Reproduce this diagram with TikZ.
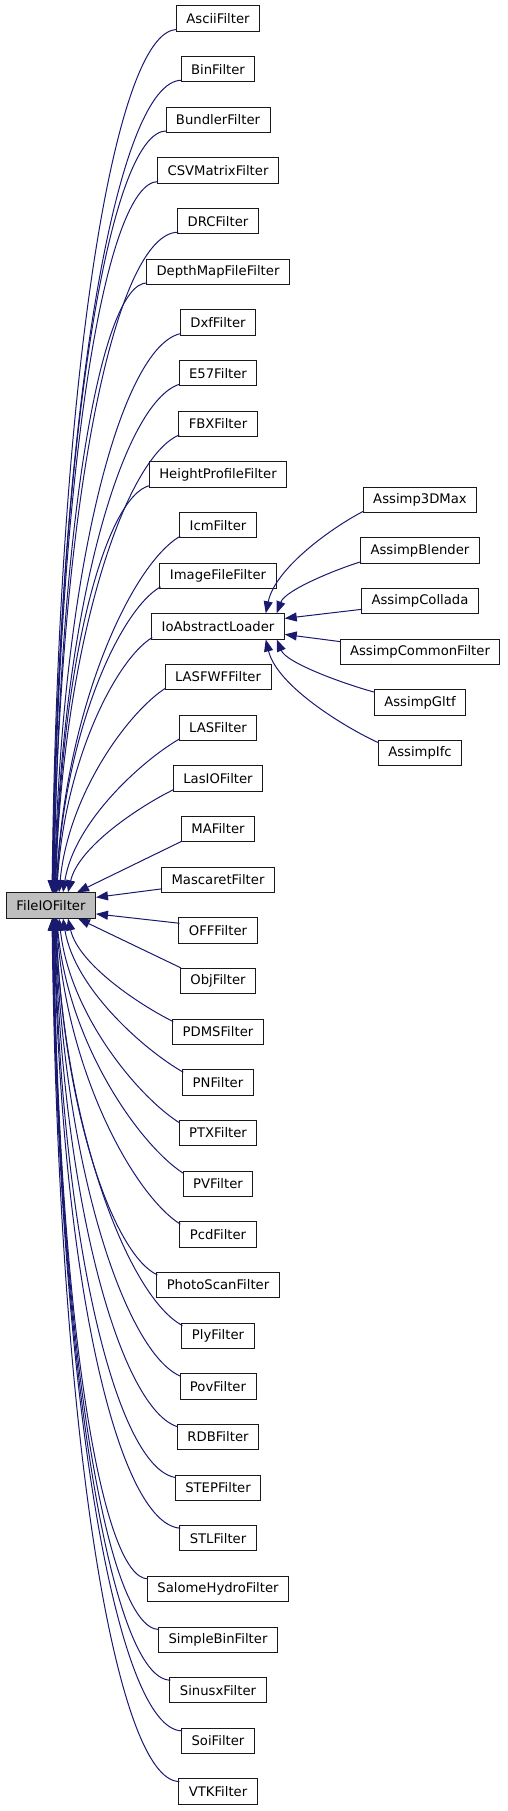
\documentclass[tikz,border=0pt]{standalone}
\usepackage{fontspec}
\setmainfont{DejaVu Sans}
\usetikzlibrary{arrows.meta,calc}
\definecolor{edgeblue}{RGB}{25,25,112}
\newcommand\upedge[2]{%
  \draw[edge] let \p1=($(#1.south west)+(1,2)$), \p2=#2,
    \n1={\x1-\x2}, \n2={\y1-\y2}, \n3={min(1,max(0,(\n2/\n1-1)/4))} in
    (\p1) .. controls ($(\p1)+({-(0.3+0.2*\n3)*\n1},{-0.15*(1-\n3)*\n2})$)
      and ($(\p2)+({(0.1-0.05*\n3)*\n1},{(0.45+0.15*\n3)*\n2})$) .. (\p2);}
\newcommand\downedge[2]{%
  \draw[edge] let \p1=($(#1.north west)+(1,-3)$), \p2=#2,
    \n1={\x1-\x2}, \n2={\y2-\y1}, \n3={min(1,max(0,(\n2/\n1-1)/4))} in
    (\p1) .. controls ($(\p1)+({-(0.3+0.2*\n3)*\n1},{0.15*(1-\n3)*\n2})$)
      and ($(\p2)+({(0.1-0.05*\n3)*\n1},{-(0.45+0.15*\n3)*\n2})$) .. (\p2);}
\begin{document}
\begin{tikzpicture}[x=1pt,y=1pt,
  box/.style={draw=black!90, line width=0.9pt, fill=white, text=black,
    font=\fontsize{13.2}{15}\selectfont, inner xsep=10pt, inner ysep=0pt,
    minimum height=25.3pt},
  rootbox/.style={box, fill=black!25},
  edge/.style={draw=edgeblue, line width=1pt, -{Triangle[length=12pt,width=9pt]}}]
\useasboundingbox (0,0) rectangle (507,1811);
\node[rootbox] (F) at (51,905.6) {FileIOFilter};
\foreach \r/\t in {1/AsciiFilter, 2/BinFilter, 3/BundlerFilter, 4/CSVMatrixFilter,
  5/DRCFilter, 6/DepthMapFileFilter, 7/DxfFilter, 8/E57Filter, 9/FBXFilter,
  10/HeightProfileFilter, 11/IcmFilter, 12/ImageFileFilter, 13/IoAbstractLoader,
  14/LASFWFFilter, 15/LASFilter, 16/LasIOFilter, 17/MAFilter, 18/MascaretFilter,
  19/OFFFilter, 20/ObjFilter, 21/PDMSFilter, 22/PNFilter, 23/PTXFilter,
  24/PVFilter, 25/PcdFilter, 26/PhotoScanFilter, 27/PlyFilter, 28/PovFilter,
  29/RDBFilter, 30/STEPFilter, 31/STLFilter, 32/SalomeHydroFilter,
  33/SimpleBinFilter, 34/SinusxFilter, 35/SoiFilter, 36/VTKFilter}
  \node[box] (c\r) at (218,{1792.5-(\r-1)*50.66}) {\t};
\foreach \r/\t in {1/Assimp3DMax, 2/AssimpBlender, 3/AssimpCollada,
  4/AssimpCommonFilter, 5/AssimpGltf, 6/AssimpIfc}
  \node[box] (r\r) at (420,{1311-(\r-1)*50.6}) {\t};
% edges to FileIOFilter from above
\foreach \r in {1,...,13}{
  \pgfmathsetmacro\tx{46+0.4*(\r-1)}
  \upedge{c\r}{($(F.north west)+(\tx,0)$)}
}
\upedge{c14}{($(F.north west)+(53,0)$)}
\upedge{c15}{($(F.north west)+(57,0)$)}
\upedge{c16}{($(F.north west)+(62,0)$)}
\draw[edge] ($(c17.south west)+(1,1)$) -- ($(F.north west)+(71,0)$);
\draw[edge] ($(c18.south west)+(1,4)$) -- ($(F.east)+(0,8)$);
% edges to FileIOFilter from below
\draw[edge] ($(c19.north west)+(1,-6)$) -- ($(F.east)+(0,-8.5)$);
\draw[edge] ($(c20.north west)+(1,0)$) -- ($(F.south west)+(72,0)$);
\downedge{c21}{($(F.south west)+(62,0)$)}
\downedge{c22}{($(F.south west)+(57,0)$)}
\downedge{c23}{($(F.south west)+(53,0)$)}
\foreach \r in {24,...,36}{
  \pgfmathsetmacro\tx{46+0.4*(36-\r)}
  \downedge{c\r}{($(F.south west)+(\tx,0)$)}
}
% edges to IoAbstractLoader
\upedge{r1}{($(c13.north east)+(-19,0)$)}
\upedge{r2}{($(c13.north east)+(-8,0)$)}
\draw[edge] ($(r3.south west)+(1,5)$) -- ($(c13.east)+(0,8)$);
\draw[edge] ($(r4.north west)+(1,-3)$) -- ($(c13.east)+(0,-8)$);
\downedge{r5}{($(c13.south east)+(-8,0)$)}
\downedge{r6}{($(c13.south east)+(-19,0)$)}
\end{tikzpicture}
\end{document}
